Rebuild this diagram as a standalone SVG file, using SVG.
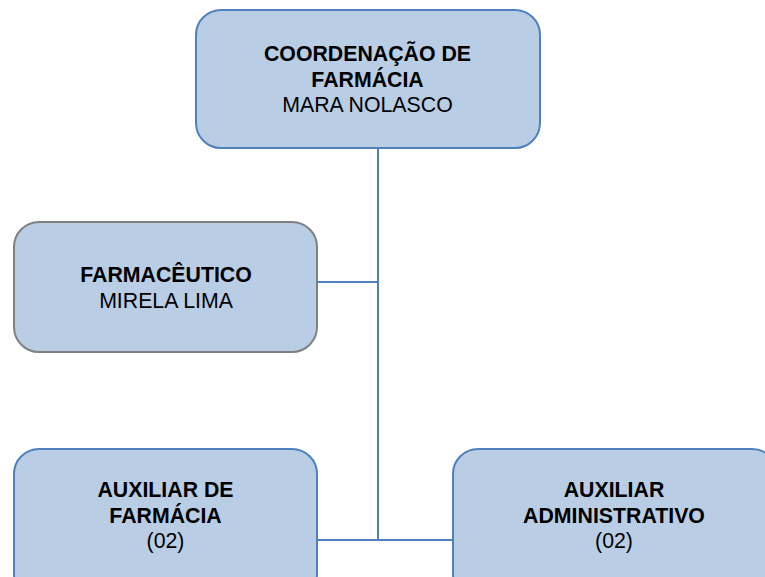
<svg xmlns="http://www.w3.org/2000/svg" width="765" height="577" viewBox="0 0 765 577">
<style>
.box{fill:#b9cde5;stroke:#4f81bd;stroke-width:2}
.gray{fill:#b9cde5;stroke:#808080;stroke-width:2}
.t{font-family:"Liberation Sans",Arial,sans-serif;font-size:21.3px;fill:#000;text-anchor:middle}
.b{font-weight:bold}
.conn{stroke:#4f81bd;stroke-width:2;fill:none}
</style>
<rect width="765" height="577" fill="#fff"/>
<g id="connectors">
<path class="conn" d="M378 148 V540 M317 282 H378 M317 540 H453"/>
</g>
<g id="coordenacao">
<rect class="box" x="196" y="10" width="344" height="138" rx="25"/>
<text class="t b" x="367.5" y="61">COORDENAÇÃO DE</text>
<text class="t b" x="367.5" y="87">FARMÁCIA</text>
<text class="t" x="367.5" y="112">MARA NOLASCO</text>
</g>
<g id="farmaceutico">
<rect class="gray" x="14" y="222" width="303" height="130" rx="25"/>
<text class="t b" x="166" y="282">FARMACÊUTICO</text>
<text class="t" x="166" y="308">MIRELA LIMA</text>
</g>
<g id="auxiliar-farmacia">
<rect class="box" x="14" y="449" width="303" height="150" rx="25"/>
<text class="t b" x="165.5" y="497">AUXILIAR DE</text>
<text class="t b" x="165.5" y="523">FARMÁCIA</text>
<text class="t" x="165.5" y="548">(02)</text>
</g>
<g id="auxiliar-administrativo">
<rect class="box" x="453" y="449" width="324" height="150" rx="25"/>
<text class="t b" x="614" y="497">AUXILIAR</text>
<text class="t b" x="614" y="523">ADMINISTRATIVO</text>
<text class="t" x="614" y="548">(02)</text>
</g>
</svg>
